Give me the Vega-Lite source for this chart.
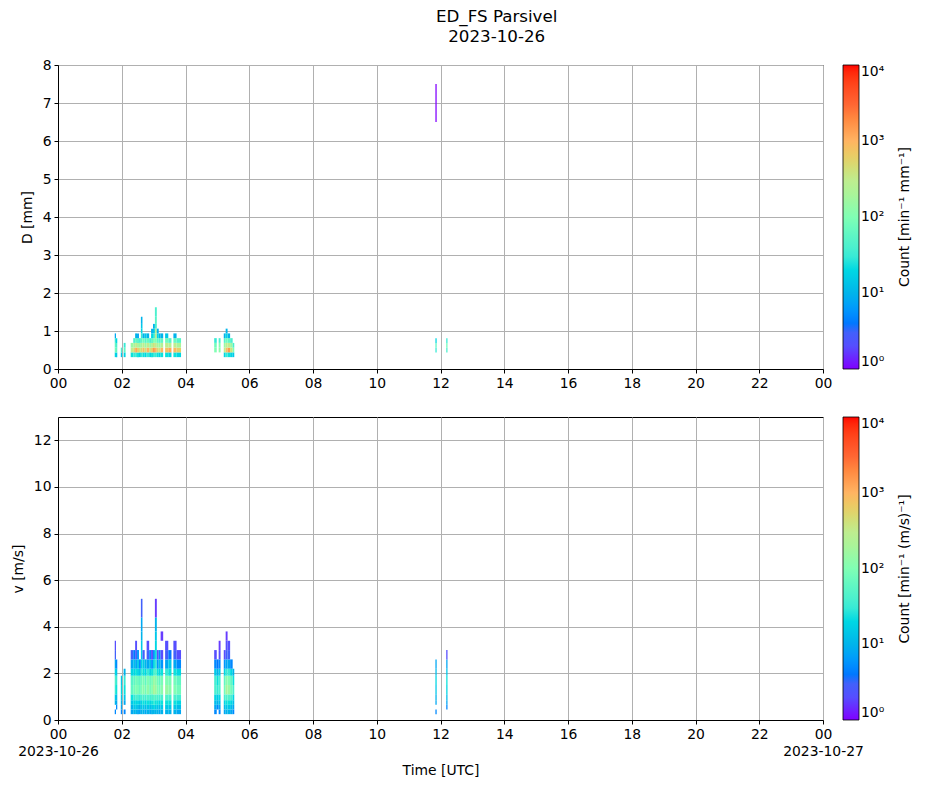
{
  "$schema": "https://vega.github.io/schema/vega-lite/v6.json",
  "background": "#ffffff",
  "padding": {"left": 10, "top": 8, "right": 5, "bottom": 5},
  "config": {
    "font": "DejaVu Sans",
    "view": {"stroke": "#000000", "strokeWidth": 1},
    "axis": {
      "labelFont": "DejaVu Sans", "labelFontSize": 13.9, "labelColor": "#000000",
      "titleFont": "DejaVu Sans", "titleFontSize": 13.9, "titleFontWeight": "normal", "titleColor": "#000000",
      "domainColor": "#000000", "tickColor": "#000000", "tickSize": 4, "labelPadding": 3,
      "gridColor": "#b0b0b0", "gridWidth": 1, "labelFlush": false, "labelOverlap": false
    },
    "legend": {
      "gradientLength": 304, "gradientThickness": 16, "offset": 20,
      "gradientStrokeColor": "#000000", "gradientStrokeWidth": 0.8,
      "labelFont": "DejaVu Sans", "labelFontSize": 13.9, "labelColor": "#000000", "labelBaseline": "middle", "labelOffset": 6,
      "titleFont": "DejaVu Sans", "titleFontSize": 13.9, "titleFontWeight": "normal", "titleColor": "#000000",
      "titleOrient": "right", "titleAnchor": "middle", "titlePadding": 14
    }
  },
  "title": {
    "text": ["ED_FS Parsivel", "2023-10-26"],
    "font": "DejaVu Sans", "fontSize": 16.7, "fontWeight": "normal", "color": "#000000",
    "lineHeight": 20, "anchor": "middle", "offset": 12, "dx": 35
  },
  "datasets": {
    "dsd": [
      {"t0":1.78,"t1":1.82,"y0":0.312,"y1":0.437,"n":20},{"t0":1.78,"t1":1.82,"y0":0.437,"y1":0.562,"n":80},{"t0":1.78,"t1":1.82,"y0":0.562,"y1":0.687,"n":60},{"t0":1.78,"t1":1.82,"y0":0.687,"y1":0.812,"n":30},{"t0":1.78,"t1":1.82,"y0":0.812,"y1":0.937,"n":8},
      {"t0":1.82,"t1":1.86,"y0":0.312,"y1":0.437,"n":15},{"t0":1.82,"t1":1.86,"y0":0.437,"y1":0.562,"n":60},{"t0":1.82,"t1":1.86,"y0":0.562,"y1":0.687,"n":40},{"t0":1.82,"t1":1.86,"y0":0.687,"y1":0.812,"n":20},
      {"t0":1.97,"t1":2.01,"y0":0.312,"y1":0.437,"n":15},{"t0":1.97,"t1":2.01,"y0":0.437,"y1":0.562,"n":40},
      {"t0":2.06,"t1":2.12,"y0":0.312,"y1":0.437,"n":20},{"t0":2.06,"t1":2.12,"y0":0.437,"y1":0.562,"n":60},{"t0":2.06,"t1":2.12,"y0":0.562,"y1":0.687,"n":30},
      {"t0":2.28,"t1":2.36,"y0":0.312,"y1":0.437,"n":25},{"t0":2.28,"t1":2.36,"y0":0.437,"y1":0.562,"n":300},{"t0":2.28,"t1":2.36,"y0":0.562,"y1":0.687,"n":150},
      {"t0":2.36,"t1":2.42,"y0":0.312,"y1":0.437,"n":30},{"t0":2.36,"t1":2.42,"y0":0.437,"y1":0.562,"n":500},{"t0":2.36,"t1":2.42,"y0":0.562,"y1":0.687,"n":200},{"t0":2.36,"t1":2.42,"y0":0.687,"y1":0.812,"n":40},
      {"t0":2.42,"t1":2.48,"y0":0.312,"y1":0.437,"n":30},{"t0":2.42,"t1":2.48,"y0":0.437,"y1":0.562,"n":1200},{"t0":2.42,"t1":2.48,"y0":0.562,"y1":0.687,"n":300},{"t0":2.42,"t1":2.48,"y0":0.687,"y1":0.812,"n":60},{"t0":2.42,"t1":2.48,"y0":0.812,"y1":0.937,"n":10},
      {"t0":2.48,"t1":2.54,"y0":0.312,"y1":0.437,"n":25},{"t0":2.48,"t1":2.54,"y0":0.437,"y1":0.562,"n":600},{"t0":2.48,"t1":2.54,"y0":0.562,"y1":0.687,"n":200},{"t0":2.48,"t1":2.54,"y0":0.687,"y1":0.812,"n":50},{"t0":2.48,"t1":2.54,"y0":0.812,"y1":0.937,"n":8},
      {"t0":2.54,"t1":2.60,"y0":0.312,"y1":0.437,"n":20},{"t0":2.54,"t1":2.60,"y0":0.437,"y1":0.562,"n":400},{"t0":2.54,"t1":2.60,"y0":0.562,"y1":0.687,"n":150},{"t0":2.54,"t1":2.60,"y0":0.687,"y1":0.812,"n":40},
      {"t0":2.60,"t1":2.65,"y0":0.312,"y1":0.437,"n":30},{"t0":2.60,"t1":2.65,"y0":0.437,"y1":0.562,"n":500},{"t0":2.60,"t1":2.65,"y0":0.562,"y1":0.687,"n":200},{"t0":2.60,"t1":2.65,"y0":0.687,"y1":0.812,"n":60},{"t0":2.60,"t1":2.65,"y0":0.812,"y1":0.937,"n":30},{"t0":2.60,"t1":2.65,"y0":0.937,"y1":1.062,"n":20},{"t0":2.60,"t1":2.65,"y0":1.062,"y1":1.187,"n":15},{"t0":2.60,"t1":2.65,"y0":1.187,"y1":1.375,"n":10},
      {"t0":2.65,"t1":2.72,"y0":0.312,"y1":0.437,"n":25},{"t0":2.65,"t1":2.72,"y0":0.437,"y1":0.562,"n":800},{"t0":2.65,"t1":2.72,"y0":0.562,"y1":0.687,"n":300},{"t0":2.65,"t1":2.72,"y0":0.687,"y1":0.812,"n":80},{"t0":2.65,"t1":2.72,"y0":0.812,"y1":0.937,"n":10},
      {"t0":2.72,"t1":2.78,"y0":0.312,"y1":0.437,"n":20},{"t0":2.72,"t1":2.78,"y0":0.437,"y1":0.562,"n":400},{"t0":2.72,"t1":2.78,"y0":0.562,"y1":0.687,"n":150},{"t0":2.72,"t1":2.78,"y0":0.687,"y1":0.812,"n":50},{"t0":2.72,"t1":2.78,"y0":0.812,"y1":0.937,"n":15},
      {"t0":2.78,"t1":2.86,"y0":0.312,"y1":0.437,"n":30},{"t0":2.78,"t1":2.86,"y0":0.437,"y1":0.562,"n":1000},{"t0":2.78,"t1":2.86,"y0":0.562,"y1":0.687,"n":300},{"t0":2.78,"t1":2.86,"y0":0.687,"y1":0.812,"n":70},{"t0":2.78,"t1":2.86,"y0":0.812,"y1":0.937,"n":10},
      {"t0":2.86,"t1":2.92,"y0":0.312,"y1":0.437,"n":20},{"t0":2.86,"t1":2.92,"y0":0.437,"y1":0.562,"n":400},{"t0":2.86,"t1":2.92,"y0":0.562,"y1":0.687,"n":150},{"t0":2.86,"t1":2.92,"y0":0.687,"y1":0.812,"n":40},
      {"t0":2.92,"t1":2.98,"y0":0.312,"y1":0.437,"n":25},{"t0":2.92,"t1":2.98,"y0":0.437,"y1":0.562,"n":700},{"t0":2.92,"t1":2.98,"y0":0.562,"y1":0.687,"n":250},{"t0":2.92,"t1":2.98,"y0":0.687,"y1":0.812,"n":60},{"t0":2.92,"t1":2.98,"y0":0.812,"y1":0.937,"n":20},{"t0":2.92,"t1":2.98,"y0":0.937,"y1":1.062,"n":10},
      {"t0":2.98,"t1":3.04,"y0":0.312,"y1":0.437,"n":30},{"t0":2.98,"t1":3.04,"y0":0.437,"y1":0.562,"n":1500},{"t0":2.98,"t1":3.04,"y0":0.562,"y1":0.687,"n":400},{"t0":2.98,"t1":3.04,"y0":0.687,"y1":0.812,"n":100},{"t0":2.98,"t1":3.04,"y0":0.812,"y1":0.937,"n":30},{"t0":2.98,"t1":3.04,"y0":0.937,"y1":1.062,"n":15},{"t0":2.98,"t1":3.04,"y0":1.062,"y1":1.187,"n":10},
      {"t0":3.04,"t1":3.10,"y0":0.312,"y1":0.437,"n":30},{"t0":3.04,"t1":3.10,"y0":0.437,"y1":0.562,"n":1000},{"t0":3.04,"t1":3.10,"y0":0.562,"y1":0.687,"n":300},{"t0":3.04,"t1":3.10,"y0":0.687,"y1":0.812,"n":100},{"t0":3.04,"t1":3.10,"y0":0.812,"y1":0.937,"n":300},{"t0":3.04,"t1":3.10,"y0":0.937,"y1":1.062,"n":200},{"t0":3.04,"t1":3.10,"y0":1.062,"y1":1.187,"n":40},{"t0":3.04,"t1":3.10,"y0":1.187,"y1":1.375,"n":50},{"t0":3.04,"t1":3.10,"y0":1.375,"y1":1.625,"n":40},
      {"t0":3.10,"t1":3.16,"y0":0.312,"y1":0.437,"n":25},{"t0":3.10,"t1":3.16,"y0":0.437,"y1":0.562,"n":500},{"t0":3.10,"t1":3.16,"y0":0.562,"y1":0.687,"n":200},{"t0":3.10,"t1":3.16,"y0":0.687,"y1":0.812,"n":60},{"t0":3.10,"t1":3.16,"y0":0.812,"y1":0.937,"n":20},{"t0":3.10,"t1":3.16,"y0":0.937,"y1":1.062,"n":10},
      {"t0":3.16,"t1":3.22,"y0":0.312,"y1":0.437,"n":20},{"t0":3.16,"t1":3.22,"y0":0.437,"y1":0.562,"n":400},{"t0":3.16,"t1":3.22,"y0":0.562,"y1":0.687,"n":150},{"t0":3.16,"t1":3.22,"y0":0.687,"y1":0.812,"n":50},{"t0":3.16,"t1":3.22,"y0":0.812,"y1":0.937,"n":10},
      {"t0":3.22,"t1":3.30,"y0":0.312,"y1":0.437,"n":25},{"t0":3.22,"t1":3.30,"y0":0.437,"y1":0.562,"n":1000},{"t0":3.22,"t1":3.30,"y0":0.562,"y1":0.687,"n":250},{"t0":3.22,"t1":3.30,"y0":0.687,"y1":0.812,"n":60},{"t0":3.22,"t1":3.30,"y0":0.812,"y1":0.937,"n":10},
      {"t0":3.36,"t1":3.46,"y0":0.312,"y1":0.437,"n":25},{"t0":3.36,"t1":3.46,"y0":0.437,"y1":0.562,"n":800},{"t0":3.36,"t1":3.46,"y0":0.562,"y1":0.687,"n":300},{"t0":3.36,"t1":3.46,"y0":0.687,"y1":0.812,"n":80},{"t0":3.36,"t1":3.46,"y0":0.812,"y1":0.937,"n":15},
      {"t0":3.46,"t1":3.56,"y0":0.312,"y1":0.437,"n":20},{"t0":3.46,"t1":3.56,"y0":0.437,"y1":0.562,"n":1200},{"t0":3.46,"t1":3.56,"y0":0.562,"y1":0.687,"n":250},{"t0":3.46,"t1":3.56,"y0":0.687,"y1":0.812,"n":50},
      {"t0":3.62,"t1":3.72,"y0":0.312,"y1":0.437,"n":25},{"t0":3.62,"t1":3.72,"y0":0.437,"y1":0.562,"n":900},{"t0":3.62,"t1":3.72,"y0":0.562,"y1":0.687,"n":300},{"t0":3.62,"t1":3.72,"y0":0.687,"y1":0.812,"n":70},{"t0":3.62,"t1":3.72,"y0":0.812,"y1":0.937,"n":10},
      {"t0":3.72,"t1":3.86,"y0":0.312,"y1":0.437,"n":20},{"t0":3.72,"t1":3.86,"y0":0.437,"y1":0.562,"n":600},{"t0":3.72,"t1":3.86,"y0":0.562,"y1":0.687,"n":200},{"t0":3.72,"t1":3.86,"y0":0.687,"y1":0.812,"n":50},
      {"t0":4.90,"t1":4.98,"y0":0.437,"y1":0.562,"n":100},{"t0":4.90,"t1":4.98,"y0":0.562,"y1":0.687,"n":80},{"t0":4.90,"t1":4.98,"y0":0.687,"y1":0.812,"n":30},
      {"t0":5.04,"t1":5.10,"y0":0.437,"y1":0.562,"n":120},{"t0":5.04,"t1":5.10,"y0":0.562,"y1":0.687,"n":100},{"t0":5.04,"t1":5.10,"y0":0.687,"y1":0.812,"n":40},
      {"t0":5.20,"t1":5.26,"y0":0.312,"y1":0.437,"n":20},{"t0":5.20,"t1":5.26,"y0":0.437,"y1":0.562,"n":300},{"t0":5.20,"t1":5.26,"y0":0.562,"y1":0.687,"n":150},{"t0":5.20,"t1":5.26,"y0":0.687,"y1":0.812,"n":50},{"t0":5.20,"t1":5.26,"y0":0.812,"y1":0.937,"n":10},
      {"t0":5.26,"t1":5.32,"y0":0.312,"y1":0.437,"n":30},{"t0":5.26,"t1":5.32,"y0":0.437,"y1":0.562,"n":800},{"t0":5.26,"t1":5.32,"y0":0.562,"y1":0.687,"n":300},{"t0":5.26,"t1":5.32,"y0":0.687,"y1":0.812,"n":80},{"t0":5.26,"t1":5.32,"y0":0.812,"y1":0.937,"n":20},{"t0":5.26,"t1":5.32,"y0":0.937,"y1":1.062,"n":10},
      {"t0":5.32,"t1":5.40,"y0":0.312,"y1":0.437,"n":25},{"t0":5.32,"t1":5.40,"y0":0.437,"y1":0.562,"n":1500},{"t0":5.32,"t1":5.40,"y0":0.562,"y1":0.687,"n":300},{"t0":5.32,"t1":5.40,"y0":0.687,"y1":0.812,"n":60},{"t0":5.32,"t1":5.40,"y0":0.812,"y1":0.937,"n":10},
      {"t0":5.40,"t1":5.48,"y0":0.312,"y1":0.437,"n":20},{"t0":5.40,"t1":5.48,"y0":0.437,"y1":0.562,"n":400},{"t0":5.40,"t1":5.48,"y0":0.562,"y1":0.687,"n":150},{"t0":5.40,"t1":5.48,"y0":0.687,"y1":0.812,"n":40},
      {"t0":5.48,"t1":5.53,"y0":0.312,"y1":0.437,"n":15},{"t0":5.48,"t1":5.53,"y0":0.437,"y1":0.562,"n":100},{"t0":5.48,"t1":5.53,"y0":0.562,"y1":0.687,"n":40},
      {"t0":11.84,"t1":11.88,"y0":0.437,"y1":0.562,"n":30},{"t0":11.84,"t1":11.88,"y0":0.562,"y1":0.687,"n":60},{"t0":11.84,"t1":11.88,"y0":0.687,"y1":0.812,"n":20},{"t0":11.84,"t1":11.88,"y0":6.5,"y1":7.5,"n":1},
      {"t0":12.18,"t1":12.22,"y0":0.437,"y1":0.562,"n":40},{"t0":12.18,"t1":12.22,"y0":0.562,"y1":0.687,"n":80},{"t0":12.18,"t1":12.22,"y0":0.687,"y1":0.812,"n":30}
    ],
    "vel": [
      {"t0":1.78,"t1":1.82,"y0":0.25,"y1":0.45,"n":5},{"t0":1.78,"t1":1.82,"y0":0.65,"y1":0.85,"n":10},{"t0":1.78,"t1":1.82,"y0":0.85,"y1":1.1,"n":15},{"t0":1.78,"t1":1.82,"y0":1.1,"y1":1.5,"n":30},{"t0":1.78,"t1":1.82,"y0":1.5,"y1":1.9,"n":40},{"t0":1.78,"t1":1.82,"y0":1.9,"y1":2.2,"n":20},{"t0":1.78,"t1":1.82,"y0":2.2,"y1":2.6,"n":8},{"t0":1.78,"t1":1.82,"y0":2.6,"y1":3.0,"n":3},{"t0":1.78,"t1":1.82,"y0":3.0,"y1":3.4,"n":2},
      {"t0":1.82,"t1":1.86,"y0":0.45,"y1":0.65,"n":5},{"t0":1.82,"t1":1.86,"y0":0.65,"y1":0.85,"n":8},{"t0":1.82,"t1":1.86,"y0":0.85,"y1":1.1,"n":12},{"t0":1.82,"t1":1.86,"y0":1.1,"y1":1.5,"n":25},{"t0":1.82,"t1":1.86,"y0":1.5,"y1":1.9,"n":30},{"t0":1.82,"t1":1.86,"y0":1.9,"y1":2.2,"n":15},{"t0":1.82,"t1":1.86,"y0":2.2,"y1":2.6,"n":5},
      {"t0":1.97,"t1":2.01,"y0":0.25,"y1":0.45,"n":5},{"t0":1.97,"t1":2.01,"y0":0.45,"y1":0.65,"n":8},{"t0":1.97,"t1":2.01,"y0":0.65,"y1":0.85,"n":10},{"t0":1.97,"t1":2.01,"y0":0.85,"y1":1.1,"n":15},{"t0":1.97,"t1":2.01,"y0":1.1,"y1":1.5,"n":20},{"t0":1.97,"t1":2.01,"y0":1.5,"y1":1.9,"n":15},
      {"t0":2.06,"t1":2.12,"y0":0.25,"y1":0.45,"n":5},{"t0":2.06,"t1":2.12,"y0":0.65,"y1":0.85,"n":8},{"t0":2.06,"t1":2.12,"y0":0.85,"y1":1.1,"n":15},{"t0":2.06,"t1":2.12,"y0":1.1,"y1":1.5,"n":25},{"t0":2.06,"t1":2.12,"y0":1.5,"y1":1.9,"n":30},{"t0":2.06,"t1":2.12,"y0":1.9,"y1":2.2,"n":10},
      {"t0":2.28,"t1":2.36,"y0":0.25,"y1":0.45,"n":8},{"t0":2.28,"t1":2.36,"y0":0.45,"y1":0.65,"n":10},{"t0":2.28,"t1":2.36,"y0":0.65,"y1":0.85,"n":15},{"t0":2.28,"t1":2.36,"y0":0.85,"y1":1.1,"n":25},{"t0":2.28,"t1":2.36,"y0":1.1,"y1":1.5,"n":60},{"t0":2.28,"t1":2.36,"y0":1.5,"y1":1.9,"n":50},{"t0":2.28,"t1":2.36,"y0":1.9,"y1":2.2,"n":20},{"t0":2.28,"t1":2.36,"y0":2.2,"y1":2.6,"n":8},{"t0":2.28,"t1":2.36,"y0":2.6,"y1":3.0,"n":3},
      {"t0":2.36,"t1":2.42,"y0":0.25,"y1":0.45,"n":10},{"t0":2.36,"t1":2.42,"y0":0.45,"y1":0.65,"n":15},{"t0":2.36,"t1":2.42,"y0":0.65,"y1":0.85,"n":20},{"t0":2.36,"t1":2.42,"y0":0.85,"y1":1.1,"n":30},{"t0":2.36,"t1":2.42,"y0":1.1,"y1":1.5,"n":80},{"t0":2.36,"t1":2.42,"y0":1.5,"y1":1.9,"n":60},{"t0":2.36,"t1":2.42,"y0":1.9,"y1":2.2,"n":20},{"t0":2.36,"t1":2.42,"y0":2.2,"y1":2.6,"n":12},{"t0":2.36,"t1":2.42,"y0":2.6,"y1":3.0,"n":4},
      {"t0":2.42,"t1":2.48,"y0":0.25,"y1":0.45,"n":10},{"t0":2.42,"t1":2.48,"y0":0.45,"y1":0.65,"n":15},{"t0":2.42,"t1":2.48,"y0":0.65,"y1":0.85,"n":20},{"t0":2.42,"t1":2.48,"y0":0.85,"y1":1.1,"n":40},{"t0":2.42,"t1":2.48,"y0":1.1,"y1":1.5,"n":100},{"t0":2.42,"t1":2.48,"y0":1.5,"y1":1.9,"n":80},{"t0":2.42,"t1":2.48,"y0":1.9,"y1":2.2,"n":25},{"t0":2.42,"t1":2.48,"y0":2.2,"y1":2.6,"n":8},{"t0":2.42,"t1":2.48,"y0":2.6,"y1":3.0,"n":3},{"t0":2.42,"t1":2.48,"y0":3.0,"y1":3.4,"n":2},
      {"t0":2.48,"t1":2.54,"y0":0.25,"y1":0.45,"n":8},{"t0":2.48,"t1":2.54,"y0":0.45,"y1":0.65,"n":12},{"t0":2.48,"t1":2.54,"y0":0.65,"y1":0.85,"n":20},{"t0":2.48,"t1":2.54,"y0":0.85,"y1":1.1,"n":35},{"t0":2.48,"t1":2.54,"y0":1.1,"y1":1.5,"n":90},{"t0":2.48,"t1":2.54,"y0":1.5,"y1":1.9,"n":70},{"t0":2.48,"t1":2.54,"y0":1.9,"y1":2.2,"n":20},{"t0":2.48,"t1":2.54,"y0":2.2,"y1":2.6,"n":15},{"t0":2.48,"t1":2.54,"y0":2.6,"y1":3.0,"n":6},
      {"t0":2.54,"t1":2.60,"y0":0.25,"y1":0.45,"n":8},{"t0":2.54,"t1":2.60,"y0":0.45,"y1":0.65,"n":10},{"t0":2.54,"t1":2.60,"y0":0.65,"y1":0.85,"n":15},{"t0":2.54,"t1":2.60,"y0":0.85,"y1":1.1,"n":30},{"t0":2.54,"t1":2.60,"y0":1.1,"y1":1.5,"n":70},{"t0":2.54,"t1":2.60,"y0":1.5,"y1":1.9,"n":60},{"t0":2.54,"t1":2.60,"y0":1.9,"y1":2.2,"n":15},{"t0":2.54,"t1":2.60,"y0":2.2,"y1":2.6,"n":5},
      {"t0":2.60,"t1":2.65,"y0":0.25,"y1":0.45,"n":10},{"t0":2.60,"t1":2.65,"y0":0.45,"y1":0.65,"n":15},{"t0":2.60,"t1":2.65,"y0":0.65,"y1":0.85,"n":20},{"t0":2.60,"t1":2.65,"y0":0.85,"y1":1.1,"n":40},{"t0":2.60,"t1":2.65,"y0":1.1,"y1":1.5,"n":100},{"t0":2.60,"t1":2.65,"y0":1.5,"y1":1.9,"n":80},{"t0":2.60,"t1":2.65,"y0":1.9,"y1":2.2,"n":30},{"t0":2.60,"t1":2.65,"y0":2.2,"y1":2.6,"n":20},{"t0":2.60,"t1":2.65,"y0":2.6,"y1":3.0,"n":15},{"t0":2.60,"t1":2.65,"y0":3.0,"y1":3.4,"n":15},{"t0":2.60,"t1":2.65,"y0":3.4,"y1":3.8,"n":10},{"t0":2.60,"t1":2.65,"y0":3.8,"y1":4.4,"n":8},{"t0":2.60,"t1":2.65,"y0":4.4,"y1":5.2,"n":3},
      {"t0":2.65,"t1":2.72,"y0":0.25,"y1":0.45,"n":10},{"t0":2.65,"t1":2.72,"y0":0.45,"y1":0.65,"n":15},{"t0":2.65,"t1":2.72,"y0":0.65,"y1":0.85,"n":25},{"t0":2.65,"t1":2.72,"y0":0.85,"y1":1.1,"n":40},{"t0":2.65,"t1":2.72,"y0":1.1,"y1":1.5,"n":120},{"t0":2.65,"t1":2.72,"y0":1.5,"y1":1.9,"n":90},{"t0":2.65,"t1":2.72,"y0":1.9,"y1":2.2,"n":25},{"t0":2.65,"t1":2.72,"y0":2.2,"y1":2.6,"n":15},{"t0":2.65,"t1":2.72,"y0":2.6,"y1":3.0,"n":3},
      {"t0":2.72,"t1":2.78,"y0":0.25,"y1":0.45,"n":8},{"t0":2.72,"t1":2.78,"y0":0.45,"y1":0.65,"n":12},{"t0":2.72,"t1":2.78,"y0":0.65,"y1":0.85,"n":20},{"t0":2.72,"t1":2.78,"y0":0.85,"y1":1.1,"n":35},{"t0":2.72,"t1":2.78,"y0":1.1,"y1":1.5,"n":80},{"t0":2.72,"t1":2.78,"y0":1.5,"y1":1.9,"n":60},{"t0":2.72,"t1":2.78,"y0":1.9,"y1":2.2,"n":20},{"t0":2.72,"t1":2.78,"y0":2.2,"y1":2.6,"n":10},
      {"t0":2.78,"t1":2.86,"y0":0.25,"y1":0.45,"n":10},{"t0":2.78,"t1":2.86,"y0":0.45,"y1":0.65,"n":15},{"t0":2.78,"t1":2.86,"y0":0.65,"y1":0.85,"n":25},{"t0":2.78,"t1":2.86,"y0":0.85,"y1":1.1,"n":45},{"t0":2.78,"t1":2.86,"y0":1.1,"y1":1.5,"n":130},{"t0":2.78,"t1":2.86,"y0":1.5,"y1":1.9,"n":100},{"t0":2.78,"t1":2.86,"y0":1.9,"y1":2.2,"n":30},{"t0":2.78,"t1":2.86,"y0":2.2,"y1":2.6,"n":8},{"t0":2.78,"t1":2.86,"y0":2.6,"y1":3.0,"n":3},{"t0":2.78,"t1":2.86,"y0":3.0,"y1":3.4,"n":2},
      {"t0":2.86,"t1":2.92,"y0":0.25,"y1":0.45,"n":8},{"t0":2.86,"t1":2.92,"y0":0.45,"y1":0.65,"n":12},{"t0":2.86,"t1":2.92,"y0":0.65,"y1":0.85,"n":20},{"t0":2.86,"t1":2.92,"y0":0.85,"y1":1.1,"n":35},{"t0":2.86,"t1":2.92,"y0":1.1,"y1":1.5,"n":80},{"t0":2.86,"t1":2.92,"y0":1.5,"y1":1.9,"n":70},{"t0":2.86,"t1":2.92,"y0":1.9,"y1":2.2,"n":20},{"t0":2.86,"t1":2.92,"y0":2.2,"y1":2.6,"n":12},{"t0":2.86,"t1":2.92,"y0":2.6,"y1":3.0,"n":5},
      {"t0":2.92,"t1":2.98,"y0":0.25,"y1":0.45,"n":10},{"t0":2.92,"t1":2.98,"y0":0.45,"y1":0.65,"n":15},{"t0":2.92,"t1":2.98,"y0":0.65,"y1":0.85,"n":25},{"t0":2.92,"t1":2.98,"y0":0.85,"y1":1.1,"n":40},{"t0":2.92,"t1":2.98,"y0":1.1,"y1":1.5,"n":110},{"t0":2.92,"t1":2.98,"y0":1.5,"y1":1.9,"n":90},{"t0":2.92,"t1":2.98,"y0":1.9,"y1":2.2,"n":25},{"t0":2.92,"t1":2.98,"y0":2.2,"y1":2.6,"n":6},{"t0":2.92,"t1":2.98,"y0":2.6,"y1":3.0,"n":2},
      {"t0":2.98,"t1":3.04,"y0":0.25,"y1":0.45,"n":10},{"t0":2.98,"t1":3.04,"y0":0.45,"y1":0.65,"n":20},{"t0":2.98,"t1":3.04,"y0":0.65,"y1":0.85,"n":30},{"t0":2.98,"t1":3.04,"y0":0.85,"y1":1.1,"n":50},{"t0":2.98,"t1":3.04,"y0":1.1,"y1":1.5,"n":200},{"t0":2.98,"t1":3.04,"y0":1.5,"y1":1.9,"n":150},{"t0":2.98,"t1":3.04,"y0":1.9,"y1":2.2,"n":40},{"t0":2.98,"t1":3.04,"y0":2.2,"y1":2.6,"n":20},{"t0":2.98,"t1":3.04,"y0":2.6,"y1":3.0,"n":6},
      {"t0":3.04,"t1":3.10,"y0":0.25,"y1":0.45,"n":10},{"t0":3.04,"t1":3.10,"y0":0.45,"y1":0.65,"n":15},{"t0":3.04,"t1":3.10,"y0":0.65,"y1":0.85,"n":25},{"t0":3.04,"t1":3.10,"y0":0.85,"y1":1.1,"n":45},{"t0":3.04,"t1":3.10,"y0":1.1,"y1":1.5,"n":150},{"t0":3.04,"t1":3.10,"y0":1.5,"y1":1.9,"n":120},{"t0":3.04,"t1":3.10,"y0":1.9,"y1":2.2,"n":50},{"t0":3.04,"t1":3.10,"y0":2.2,"y1":2.6,"n":30},{"t0":3.04,"t1":3.10,"y0":2.6,"y1":3.0,"n":25},{"t0":3.04,"t1":3.10,"y0":3.0,"y1":3.4,"n":20},{"t0":3.04,"t1":3.10,"y0":3.4,"y1":3.8,"n":15},{"t0":3.04,"t1":3.10,"y0":3.8,"y1":4.4,"n":10},{"t0":3.04,"t1":3.10,"y0":4.4,"y1":5.2,"n":1.5},
      {"t0":3.10,"t1":3.16,"y0":0.25,"y1":0.45,"n":10},{"t0":3.10,"t1":3.16,"y0":0.45,"y1":0.65,"n":15},{"t0":3.10,"t1":3.16,"y0":0.65,"y1":0.85,"n":25},{"t0":3.10,"t1":3.16,"y0":0.85,"y1":1.1,"n":40},{"t0":3.10,"t1":3.16,"y0":1.1,"y1":1.5,"n":100},{"t0":3.10,"t1":3.16,"y0":1.5,"y1":1.9,"n":80},{"t0":3.10,"t1":3.16,"y0":1.9,"y1":2.2,"n":25},{"t0":3.10,"t1":3.16,"y0":2.2,"y1":2.6,"n":6},{"t0":3.10,"t1":3.16,"y0":2.6,"y1":3.0,"n":2},
      {"t0":3.16,"t1":3.22,"y0":0.25,"y1":0.45,"n":8},{"t0":3.16,"t1":3.22,"y0":0.45,"y1":0.65,"n":12},{"t0":3.16,"t1":3.22,"y0":0.65,"y1":0.85,"n":20},{"t0":3.16,"t1":3.22,"y0":0.85,"y1":1.1,"n":35},{"t0":3.16,"t1":3.22,"y0":1.1,"y1":1.5,"n":80},{"t0":3.16,"t1":3.22,"y0":1.5,"y1":1.9,"n":60},{"t0":3.16,"t1":3.22,"y0":1.9,"y1":2.2,"n":20},{"t0":3.16,"t1":3.22,"y0":2.2,"y1":2.6,"n":12},{"t0":3.16,"t1":3.22,"y0":2.6,"y1":3.0,"n":5},
      {"t0":3.22,"t1":3.30,"y0":0.25,"y1":0.45,"n":10},{"t0":3.22,"t1":3.30,"y0":0.45,"y1":0.65,"n":15},{"t0":3.22,"t1":3.30,"y0":0.65,"y1":0.85,"n":25},{"t0":3.22,"t1":3.30,"y0":0.85,"y1":1.1,"n":40},{"t0":3.22,"t1":3.30,"y0":1.1,"y1":1.5,"n":120},{"t0":3.22,"t1":3.30,"y0":1.5,"y1":1.9,"n":90},{"t0":3.22,"t1":3.30,"y0":1.9,"y1":2.2,"n":25},{"t0":3.22,"t1":3.30,"y0":2.2,"y1":2.6,"n":6},{"t0":3.22,"t1":3.30,"y0":2.6,"y1":3.0,"n":2},{"t0":3.22,"t1":3.30,"y0":3.4,"y1":3.8,"n":1.5},
      {"t0":3.36,"t1":3.46,"y0":0.25,"y1":0.45,"n":10},{"t0":3.36,"t1":3.46,"y0":0.45,"y1":0.65,"n":15},{"t0":3.36,"t1":3.46,"y0":0.65,"y1":0.85,"n":25},{"t0":3.36,"t1":3.46,"y0":0.85,"y1":1.1,"n":45},{"t0":3.36,"t1":3.46,"y0":1.1,"y1":1.5,"n":150},{"t0":3.36,"t1":3.46,"y0":1.5,"y1":1.9,"n":100},{"t0":3.36,"t1":3.46,"y0":1.9,"y1":2.2,"n":30},{"t0":3.36,"t1":3.46,"y0":2.2,"y1":2.6,"n":8},{"t0":3.36,"t1":3.46,"y0":2.6,"y1":3.0,"n":3},{"t0":3.36,"t1":3.46,"y0":3.0,"y1":3.4,"n":2},
      {"t0":3.46,"t1":3.56,"y0":0.25,"y1":0.45,"n":10},{"t0":3.46,"t1":3.56,"y0":0.45,"y1":0.65,"n":15},{"t0":3.46,"t1":3.56,"y0":0.65,"y1":0.85,"n":25},{"t0":3.46,"t1":3.56,"y0":0.85,"y1":1.1,"n":40},{"t0":3.46,"t1":3.56,"y0":1.1,"y1":1.5,"n":120},{"t0":3.46,"t1":3.56,"y0":1.5,"y1":1.9,"n":90},{"t0":3.46,"t1":3.56,"y0":1.9,"y1":2.2,"n":25},{"t0":3.46,"t1":3.56,"y0":2.2,"y1":2.6,"n":15},{"t0":3.46,"t1":3.56,"y0":2.6,"y1":3.0,"n":4},
      {"t0":3.62,"t1":3.72,"y0":0.25,"y1":0.45,"n":10},{"t0":3.62,"t1":3.72,"y0":0.45,"y1":0.65,"n":15},{"t0":3.62,"t1":3.72,"y0":0.65,"y1":0.85,"n":25},{"t0":3.62,"t1":3.72,"y0":0.85,"y1":1.1,"n":40},{"t0":3.62,"t1":3.72,"y0":1.1,"y1":1.5,"n":100},{"t0":3.62,"t1":3.72,"y0":1.5,"y1":1.9,"n":80},{"t0":3.62,"t1":3.72,"y0":1.9,"y1":2.2,"n":25},{"t0":3.62,"t1":3.72,"y0":2.2,"y1":2.6,"n":8},{"t0":3.62,"t1":3.72,"y0":2.6,"y1":3.0,"n":3},{"t0":3.62,"t1":3.72,"y0":3.0,"y1":3.4,"n":2},
      {"t0":3.72,"t1":3.86,"y0":0.25,"y1":0.45,"n":8},{"t0":3.72,"t1":3.86,"y0":0.45,"y1":0.65,"n":12},{"t0":3.72,"t1":3.86,"y0":0.65,"y1":0.85,"n":20},{"t0":3.72,"t1":3.86,"y0":0.85,"y1":1.1,"n":35},{"t0":3.72,"t1":3.86,"y0":1.1,"y1":1.5,"n":80},{"t0":3.72,"t1":3.86,"y0":1.5,"y1":1.9,"n":60},{"t0":3.72,"t1":3.86,"y0":1.9,"y1":2.2,"n":20},{"t0":3.72,"t1":3.86,"y0":2.2,"y1":2.6,"n":5},{"t0":3.72,"t1":3.86,"y0":2.6,"y1":3.0,"n":2},
      {"t0":4.90,"t1":4.98,"y0":0.25,"y1":0.45,"n":5},{"t0":4.90,"t1":4.98,"y0":0.45,"y1":0.65,"n":8},{"t0":4.90,"t1":4.98,"y0":0.65,"y1":0.85,"n":12},{"t0":4.90,"t1":4.98,"y0":0.85,"y1":1.1,"n":20},{"t0":4.90,"t1":4.98,"y0":1.1,"y1":1.5,"n":40},{"t0":4.90,"t1":4.98,"y0":1.5,"y1":1.9,"n":35},{"t0":4.90,"t1":4.98,"y0":1.9,"y1":2.2,"n":15},{"t0":4.90,"t1":4.98,"y0":2.2,"y1":2.6,"n":5},{"t0":4.90,"t1":4.98,"y0":2.6,"y1":3.0,"n":2},
      {"t0":4.98,"t1":5.04,"y0":0.45,"y1":0.65,"n":5},{"t0":4.98,"t1":5.04,"y0":0.65,"y1":0.85,"n":10},{"t0":4.98,"t1":5.04,"y0":0.85,"y1":1.1,"n":15},{"t0":4.98,"t1":5.04,"y0":1.1,"y1":1.5,"n":30},{"t0":4.98,"t1":5.04,"y0":1.5,"y1":1.9,"n":25},{"t0":4.98,"t1":5.04,"y0":1.9,"y1":2.2,"n":10},{"t0":4.98,"t1":5.04,"y0":2.2,"y1":2.6,"n":4},
      {"t0":5.04,"t1":5.10,"y0":0.25,"y1":0.45,"n":5},{"t0":5.04,"t1":5.10,"y0":0.45,"y1":0.65,"n":8},{"t0":5.04,"t1":5.10,"y0":0.65,"y1":0.85,"n":12},{"t0":5.04,"t1":5.10,"y0":0.85,"y1":1.1,"n":20},{"t0":5.04,"t1":5.10,"y0":1.1,"y1":1.5,"n":40},{"t0":5.04,"t1":5.10,"y0":1.5,"y1":1.9,"n":35},{"t0":5.04,"t1":5.10,"y0":1.9,"y1":2.2,"n":15},{"t0":5.04,"t1":5.10,"y0":2.2,"y1":2.6,"n":5},{"t0":5.04,"t1":5.10,"y0":2.6,"y1":3.0,"n":2},{"t0":5.04,"t1":5.10,"y0":3.0,"y1":3.4,"n":1.5},
      {"t0":5.20,"t1":5.26,"y0":0.25,"y1":0.45,"n":8},{"t0":5.20,"t1":5.26,"y0":0.45,"y1":0.65,"n":12},{"t0":5.20,"t1":5.26,"y0":0.65,"y1":0.85,"n":20},{"t0":5.20,"t1":5.26,"y0":0.85,"y1":1.1,"n":35},{"t0":5.20,"t1":5.26,"y0":1.1,"y1":1.5,"n":80},{"t0":5.20,"t1":5.26,"y0":1.5,"y1":1.9,"n":60},{"t0":5.20,"t1":5.26,"y0":1.9,"y1":2.2,"n":20},{"t0":5.20,"t1":5.26,"y0":2.2,"y1":2.6,"n":6},{"t0":5.20,"t1":5.26,"y0":2.6,"y1":3.0,"n":2},
      {"t0":5.26,"t1":5.32,"y0":0.25,"y1":0.45,"n":10},{"t0":5.26,"t1":5.32,"y0":0.45,"y1":0.65,"n":15},{"t0":5.26,"t1":5.32,"y0":0.65,"y1":0.85,"n":25},{"t0":5.26,"t1":5.32,"y0":0.85,"y1":1.1,"n":45},{"t0":5.26,"t1":5.32,"y0":1.1,"y1":1.5,"n":200},{"t0":5.26,"t1":5.32,"y0":1.5,"y1":1.9,"n":120},{"t0":5.26,"t1":5.32,"y0":1.9,"y1":2.2,"n":30},{"t0":5.26,"t1":5.32,"y0":2.2,"y1":2.6,"n":8},{"t0":5.26,"t1":5.32,"y0":2.6,"y1":3.0,"n":3},{"t0":5.26,"t1":5.32,"y0":3.0,"y1":3.4,"n":2},{"t0":5.26,"t1":5.32,"y0":3.4,"y1":3.8,"n":1.5},
      {"t0":5.32,"t1":5.40,"y0":0.25,"y1":0.45,"n":10},{"t0":5.32,"t1":5.40,"y0":0.45,"y1":0.65,"n":15},{"t0":5.32,"t1":5.40,"y0":0.65,"y1":0.85,"n":25},{"t0":5.32,"t1":5.40,"y0":0.85,"y1":1.1,"n":45},{"t0":5.32,"t1":5.40,"y0":1.1,"y1":1.5,"n":150},{"t0":5.32,"t1":5.40,"y0":1.5,"y1":1.9,"n":100},{"t0":5.32,"t1":5.40,"y0":1.9,"y1":2.2,"n":30},{"t0":5.32,"t1":5.40,"y0":2.2,"y1":2.6,"n":8},{"t0":5.32,"t1":5.40,"y0":2.6,"y1":3.0,"n":3},{"t0":5.32,"t1":5.40,"y0":3.0,"y1":3.4,"n":2},
      {"t0":5.40,"t1":5.48,"y0":0.25,"y1":0.45,"n":8},{"t0":5.40,"t1":5.48,"y0":0.45,"y1":0.65,"n":12},{"t0":5.40,"t1":5.48,"y0":0.65,"y1":0.85,"n":20},{"t0":5.40,"t1":5.48,"y0":0.85,"y1":1.1,"n":35},{"t0":5.40,"t1":5.48,"y0":1.1,"y1":1.5,"n":80},{"t0":5.40,"t1":5.48,"y0":1.5,"y1":1.9,"n":60},{"t0":5.40,"t1":5.48,"y0":1.9,"y1":2.2,"n":20},{"t0":5.40,"t1":5.48,"y0":2.2,"y1":2.6,"n":5},
      {"t0":5.48,"t1":5.53,"y0":0.25,"y1":0.45,"n":5},{"t0":5.48,"t1":5.53,"y0":0.45,"y1":0.65,"n":8},{"t0":5.48,"t1":5.53,"y0":0.65,"y1":0.85,"n":12},{"t0":5.48,"t1":5.53,"y0":0.85,"y1":1.1,"n":20},{"t0":5.48,"t1":5.53,"y0":1.1,"y1":1.5,"n":40},{"t0":5.48,"t1":5.53,"y0":1.5,"y1":1.9,"n":25},{"t0":5.48,"t1":5.53,"y0":1.9,"y1":2.2,"n":10},
      {"t0":11.84,"t1":11.88,"y0":0.25,"y1":0.45,"n":5},{"t0":11.84,"t1":11.88,"y0":0.65,"y1":0.85,"n":8},{"t0":11.84,"t1":11.88,"y0":0.85,"y1":1.1,"n":10},{"t0":11.84,"t1":11.88,"y0":1.1,"y1":1.5,"n":15},{"t0":11.84,"t1":11.88,"y0":1.5,"y1":1.9,"n":20},{"t0":11.84,"t1":11.88,"y0":1.9,"y1":2.2,"n":12},{"t0":11.84,"t1":11.88,"y0":2.2,"y1":2.6,"n":8},
      {"t0":12.18,"t1":12.22,"y0":0.45,"y1":0.65,"n":5},{"t0":12.18,"t1":12.22,"y0":0.65,"y1":0.85,"n":8},{"t0":12.18,"t1":12.22,"y0":0.85,"y1":1.1,"n":12},{"t0":12.18,"t1":12.22,"y0":1.1,"y1":1.5,"n":20},{"t0":12.18,"t1":12.22,"y0":1.5,"y1":1.9,"n":25},{"t0":12.18,"t1":12.22,"y0":1.9,"y1":2.2,"n":15},{"t0":12.18,"t1":12.22,"y0":2.2,"y1":2.6,"n":8},{"t0":12.18,"t1":12.22,"y0":2.6,"y1":3.0,"n":2}
    ]
  },
  "vconcat": [
    {
      "width": 765,
      "height": 304,
      "data": {"name": "dsd"},
      "mark": {"type": "rect"},
      "encoding": {
        "x": {
          "field": "t0", "type": "quantitative",
          "scale": {"domain": [0, 24], "nice": false, "zero": false},
          "axis": {
            "title": null, "grid": true,
            "values": [0, 2, 4, 6, 8, 10, 12, 14, 16, 18, 20, 22, 24],
            "labelExpr": "datum.value == 24 ? '00' : datum.value < 10 ? '0' + datum.value : '' + datum.value"
          }
        },
        "x2": {"field": "t1"},
        "y": {
          "field": "y0", "type": "quantitative",
          "scale": {"domain": [0, 8], "nice": false, "zero": false},
          "axis": {"title": "D [mm]", "grid": true, "values": [0, 1, 2, 3, 4, 5, 6, 7, 8], "titlePadding": 8}
        },
        "y2": {"field": "y1"},
        "color": {
          "field": "n", "type": "quantitative",
          "scale": {
            "type": "log",
            "domain": [1, 3.1623, 10, 31.623, 100, 316.23, 1000, 3162.3, 10000],
            "range": ["#8000ff", "#4062fa", "#00b4eb", "#40ecd4", "#80ffb4", "#c0ec8e", "#ffb462", "#ff6232", "#ff0000"]
          },
          "legend": {
            "title": "Count [min⁻¹ mm⁻¹]",
            "values": [1, 10, 100, 1000, 10000],
            "labelExpr": "datum.value < 5 ? '10⁰' : datum.value < 50 ? '10¹' : datum.value < 500 ? '10²' : datum.value < 5000 ? '10³' : '10⁴'",
            "encode": {"title": {"update": {"angle": {"value": 270}, "baseline": {"value": "top"}}}}
          }
        }
      }
    },
    {
      "width": 765,
      "height": 303,
      "data": {"name": "vel"},
      "mark": {"type": "rect"},
      "encoding": {
        "x": {
          "field": "t0", "type": "quantitative",
          "scale": {"domain": [0, 24], "nice": false, "zero": false},
          "axis": {
            "title": "Time [UTC]", "grid": true, "titlePadding": 6, "labelLineHeight": 17,
            "values": [0, 2, 4, 6, 8, 10, 12, 14, 16, 18, 20, 22, 24],
            "labelExpr": "datum.value == 0 ? ['00', '2023-10-26'] : datum.value == 24 ? ['00', '2023-10-27'] : datum.value < 10 ? '0' + datum.value : '' + datum.value"
          }
        },
        "x2": {"field": "t1"},
        "y": {
          "field": "y0", "type": "quantitative",
          "scale": {"domain": [0, 13], "nice": false, "zero": false},
          "axis": {"title": "v [m/s]", "grid": true, "values": [0, 2, 4, 6, 8, 10, 12], "titlePadding": 8}
        },
        "y2": {"field": "y1"},
        "color": {
          "field": "n", "type": "quantitative",
          "scale": {
            "type": "log",
            "domain": [1, 3.1623, 10, 31.623, 100, 316.23, 1000, 3162.3, 10000],
            "range": ["#8000ff", "#4062fa", "#00b4eb", "#40ecd4", "#80ffb4", "#c0ec8e", "#ffb462", "#ff6232", "#ff0000"]
          },
          "legend": {
            "title": "Count [min⁻¹ (m/s)⁻¹]",
            "gradientLength": 303,
            "values": [1, 10, 100, 1000, 10000],
            "labelExpr": "datum.value < 5 ? '10⁰' : datum.value < 50 ? '10¹' : datum.value < 500 ? '10²' : datum.value < 5000 ? '10³' : '10⁴'",
            "encode": {"title": {"update": {"angle": {"value": 270}, "baseline": {"value": "top"}}}}
          }
        }
      }
    }
  ],
  "spacing": 25,
  "resolve": {"scale": {"color": "independent"}, "legend": {"color": "independent"}}
}
